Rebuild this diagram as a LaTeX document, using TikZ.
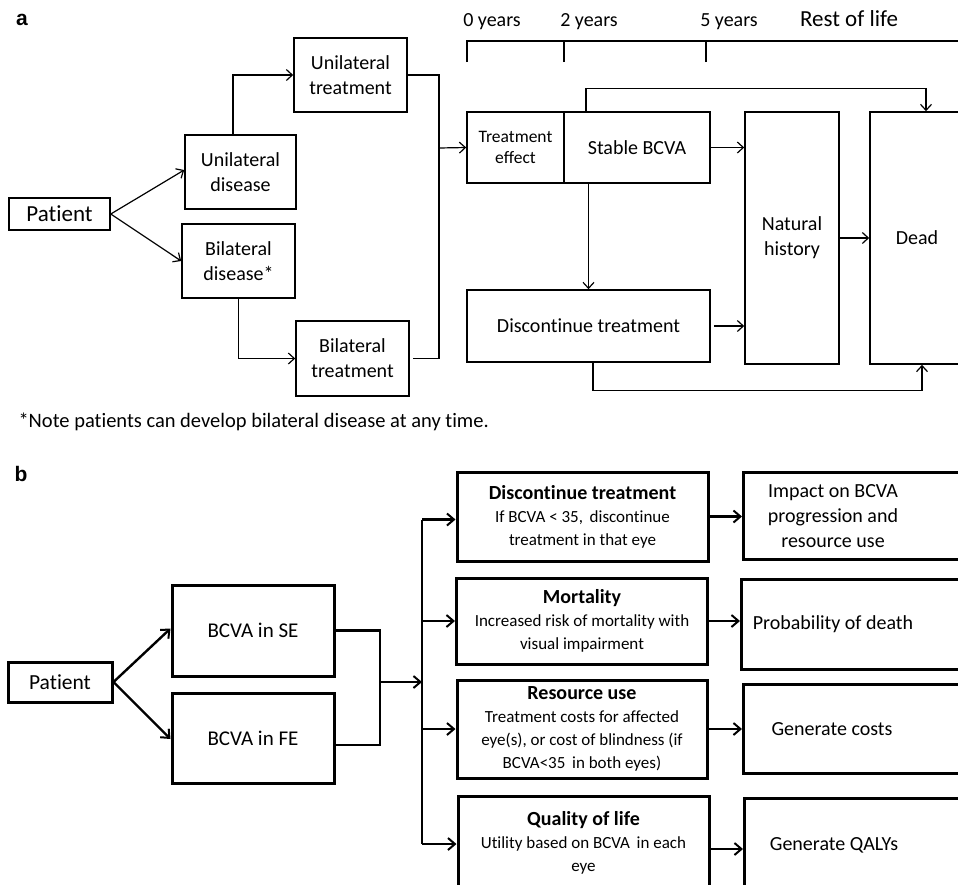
\documentclass[tikz,border=0pt]{standalone}
\usepackage{fontspec}
\setmainfont{Carlito}[Ligatures={NoCommon}]
\newfontfamily\panelfont{Liberation Sans}
\usepackage{tikz}
\usetikzlibrary{calc,arrows.meta,positioning}

\newcommand{\fs}[2]{\fontsize{#1}{#2}\selectfont}

\begin{document}
\begin{tikzpicture}[
    x=1pt, y=-1pt,
    every node/.style={font=\fs{20}{25}},
    box/.style ={rectangle, draw=black, line width=1.6pt, inner sep=0pt, align=center},
    boxb/.style={rectangle, draw=black, line width=3pt, inner sep=0pt, align=center},
    flow/.style={-{Straight Barb[length=6pt, width=11pt, line width=1.2pt]}, line width=1.2pt},
    flowb/.style={-{Straight Barb[length=7pt, width=12pt, line width=2pt]}, line width=2.4pt},
    link/.style={line width=1.2pt},
    linkb/.style={line width=2.6pt},
    yr/.style={font=\fs{20}{24}},
    small/.style={font=\fs{17.5}{21}},
    body/.style={font=\fs{17}{23}},
    title/.style={font=\fs{20}{25}, align=center},
    panel/.style={font=\panelfont\bfseries\fs{21}{24}},
  ]
  \useasboundingbox (0,0) rectangle (958,884);
  \clip (0,0) rectangle (958,884);

  % panel a
  \node[panel] (la) at (22,20) {a};

  \node[box, font=\fs{23}{26}, minimum width=101, minimum height=32] (P1) at (59.5,214) {Patient};
  \node[box, minimum width=111, minimum height=74] (UD) at (240.5,172) {Unilateral\\disease};
  \node[box, minimum width=113, minimum height=74] (BD) at (238.5,261) {Bilateral\\disease*};
  \node[box, minimum width=113, minimum height=74] (UT) at (350.5,75) {Unilateral\\treatment};
  \node[box, minimum width=113, minimum height=75] (BT) at (352.5,358.5) {Bilateral\\treatment};

  \node[box, small, minimum width=97, minimum height=71] (TE) at (515.5,147.5) {Treatment\\effect};
  \node[box, minimum width=146, minimum height=71] (SB) at (637,147.5) {Stable BCVA};
  \node[box, minimum width=243, minimum height=72] (DT) at (588.5,326) {Discontinue treatment};
  \node[box, minimum width=94, minimum height=252] (NH) at (792,238) {Natural\\history};
  \node[box, minimum width=94, minimum height=252] (DE) at (917,238) {Dead};

  \coordinate (J1) at (439,148);

  \draw[flow] (P1.east) -- ([yshift=2]UD.west);
  \draw[flow] (P1.east) -- (BD.west);
  \draw[flow] ([xshift=-7.5]UD.north) |- (UT.west);
  \draw[flow] (BD.south) |- (BT.west);
  \draw[link] (UT.east) -| (J1) |- ([xshift=3]BT.east);
  \draw[flow] (J1) -- (TE.west);

  \draw[flow] (SB.east) -- (SB.east -| NH.west);
  \draw[flow] ([xshift=3]DT.east) -- (DT.east -| NH.west);
  \draw[flow] (NH.east) -- (DE.west);
  \draw[flow] (DT.north |- SB.south) -- (DT.north);
  \draw[flow] ([xshift=-51]SB.north) -- ++(0,-23) -| ([xshift=9]DE.north);
  \draw[flow] ([xshift=4.5]DT.south) -- ++(0,28) -| ([xshift=5]DE.south);

  % timeline
  \node[yr] (y0) at (492,22) {0 years};
  \node[yr] (y2) at (589,22) {2 years};
  \node[yr] (y5) at (729,22) {5 years};
  \node[font=\fs{23}{26}] (yl) at (849,19) {Rest of life};
  \draw[link] (467,62) -- (467,41) -- (965,41);
  \draw[link] (564,62) -- (564,41);
  \draw[link] (706,62) -- (706,41);

  \node[anchor=west, font=\fs{20.5}{24}] (note) at (15,422) {*Note patients can develop bilateral disease at any time.};

  % panel b
  \node[panel] (lb) at (21,474) {b};

  \node[boxb, font=\fs{21.5}{25}, minimum width=104, minimum height=40] (P2) at (60,682) {Patient};
  \node[boxb, font=\fs{21}{25}, minimum width=162, minimum height=91] (SE) at (253,630.5) {BCVA in SE};
  \node[boxb, font=\fs{21}{25}, minimum width=162, minimum height=90] (FE) at (253,738) {BCVA in FE};

  \node[boxb, body, minimum width=251, minimum height=89] (DT2) at (582.5,516.5)
    {{\bfseries\fs{20}{23}Discontinue treatment}\\If BCVA < 35,\, discontinue\\treatment in that eye};
  \node[boxb, body, minimum width=251, minimum height=86] (MO) at (582,621)
    {{\bfseries\fs{20}{23}Mortality}\\Increased risk of mortality with\\visual impairment};
  \node[boxb, body, minimum width=250, minimum height=98] (RU) at (582,729)
    {{\bfseries\fs{20}{23}Resource use}\\Treatment costs for affected\\eye(s), or cost of blindness (if\\BCVA<35\, in both eyes)};
  \node[boxb, body, minimum width=251, minimum height=94] (QL) at (583.5,843)
    {{\bfseries\fs{20}{23}Quality of life}\\Utility based on BCVA\, in each\\eye};

  \node[boxb, anchor=north west, minimum width=260, minimum height=87] (IM) at (742,471) {};
  \node[boxb, anchor=north west, minimum width=260, minimum height=90] (PD) at (740,578) {};
  \node[boxb, anchor=north west, minimum width=260, minimum height=89] (GC) at (742,683) {};
  \node[boxb, anchor=north west, minimum width=260, minimum height=94] (GQ) at (743,797) {};
  \node[title] (IMt) at ([xshift=91]IM.west) {Impact on BCVA\\progression and\\resource use};
  \node[title] (PDt) at ([xshift=93]PD.west) {Probability of death};
  \node[title] (GCt) at ([xshift=90]GC.west) {Generate costs};
  \node[title] (GQt) at ([xshift=91]GQ.west) {Generate QALYs};

  \coordinate (J2) at (380,682);
  \coordinate (BUS) at (422,682);

  \draw[flowb] (P2.east) -- ([yshift=2]SE.west);
  \draw[flowb] (P2.east) -- ([yshift=-1]FE.west);
  \draw[linkb] (SE.east) -| (J2) |- ([yshift=-7]FE.east);
  \draw[flowb] (J2) -- (BUS);
  \draw[linkb] ([yshift=-3]BUS |- DT2.west) -- ([yshift=-1]BUS |- QL.west);
  \draw[flowb] ([yshift=-3]BUS |- DT2.west) -- ([yshift=-3]DT2.west);
  \draw[flowb] (BUS |- MO.west) -- (MO.west);
  \draw[flowb] (BUS |- RU.west) -- (RU.west);
  \draw[flowb] ([yshift=-1]BUS |- QL.west) -- ([yshift=-1]QL.west);

  \draw[flowb] (DT2.east) -- (DT2.east -| IM.west);
  \draw[flowb] (MO.east) -- (MO.east -| PD.west);
  \draw[flowb] (RU.east) -- (RU.east -| GC.west);
  \draw[flowb] ([yshift=-6]QL.east) -- ([yshift=-6]QL.east -| GQ.west);

\end{tikzpicture}
\end{document}
